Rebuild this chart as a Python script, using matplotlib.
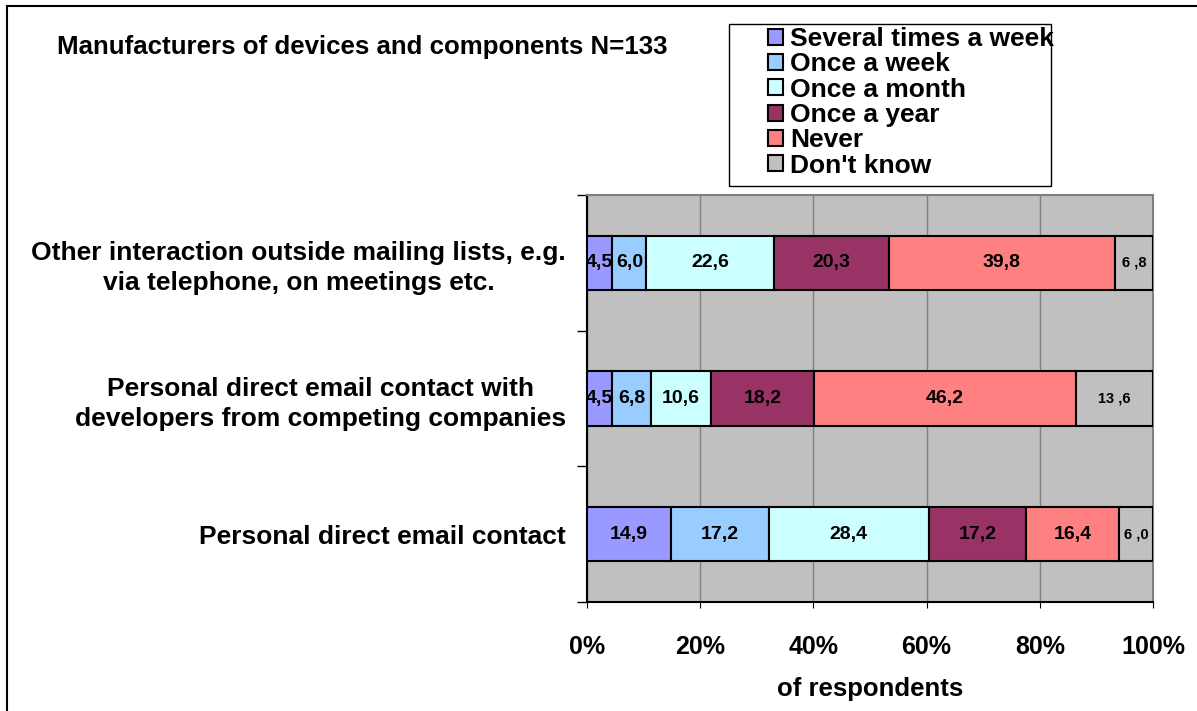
import numpy as np
import matplotlib
matplotlib.use("Agg")
import matplotlib.pyplot as plt
from matplotlib.patches import Rectangle

plt.rcParams['font.family'] = ['Liberation Sans', 'DejaVu Sans']
plt.rcParams['font.weight'] = 'bold'

# categories from bottom to top
categories = [
    "Personal direct email contact",
    "Personal direct email contact with\ndevelopers from competing companies",
    "Other interaction outside mailing lists, e.g.\nvia telephone, on meetings etc.",
]
series_names = ["Several times a week", "Once a week", "Once a month",
                "Once a year", "Never", "Don't know"]
several_week = [14.9, 4.5, 4.5]
once_week = [17.2, 6.8, 6.0]
once_month = [28.4, 10.6, 22.6]
once_year = [17.2, 18.2, 20.3]
never = [16.4, 46.2, 39.8]
dont_know = [6.0, 13.6, 6.8]
colors = ["#9999FF", "#99CCFF", "#CCFFFF", "#993366", "#FF8080", "#C0C0C0"]
x_ticks = [0, 20, 40, 60, 80, 100]

values = np.array([several_week, once_week, once_month, once_year, never, dont_know])
shares = values / values.sum(axis=0) * 100  # 100% stacked

W, H = 1197, 711
fig = plt.figure(figsize=(W / 100, H / 100), dpi=100)
fig.patches.append(Rectangle((7 / W, -0.1), 1.2, 1 - 6 / H + 0.1,
                             transform=fig.transFigure, fill=False,
                             edgecolor="black", linewidth=1.5))

ax = fig.add_axes([587 / W, 1 - 602 / H, (1153 - 587) / W, (602 - 195) / H])
ax.set_facecolor("#C0C0C0")
ax.set_xlim(0, 100)
ax.set_ylim(-0.5, 2.5)

ypos = np.arange(len(categories))
left = np.zeros(len(categories))
for i, name in enumerate(series_names):
    ax.barh(ypos, shares[i], left=left, height=0.4, color=colors[i],
            edgecolor="black", linewidth=1.5, label=name, zorder=3)
    for j in range(len(categories)):
        cx = left[j] + shares[i][j] / 2
        if i == len(series_names) - 1:
            txt = f"{values[i][j]:.1f}".replace(".", " ,")
            ax.text(cx, ypos[j], txt, ha="center", va="center", fontsize=10.5,
                    fontweight="bold", zorder=4)
        else:
            txt = f"{values[i][j]:.1f}".replace(".", ",")
            ax.text(cx, ypos[j], txt, ha="center", va="center", fontsize=14,
                    fontweight="bold", zorder=4)
    left += shares[i]

ax.xaxis.grid(True, color="#808080", linewidth=1, zorder=0)
ax.set_xticks(x_ticks)
ax.set_xticklabels([f"{t}%" for t in x_ticks], fontsize=18, fontweight="bold")
ax.tick_params(axis="x", length=4, pad=20)
ax.set_yticks(ypos)
ax.set_yticklabels(categories, fontsize=19, fontweight="bold",
                   multialignment="center", linespacing=1.3)
ax.tick_params(axis="y", length=0, pad=15)
ax.set_yticks([-0.5, 0.5, 1.5, 2.5], minor=True)
ax.tick_params(axis="y", which="minor", length=7, width=1)
ax.set_xlabel("of respondents", fontsize=18.5, fontweight="bold", labelpad=13)

for s in ["top", "right"]:
    ax.spines[s].set_color("#808080")
    ax.spines[s].set_linewidth(1.5)
for s in ["left", "bottom"]:
    ax.spines[s].set_color("black")
    ax.spines[s].set_linewidth(1.5)

fig.text(57 / W, 1 - 47 / H, "Manufacturers of devices and components N=133",
         fontsize=18.6, fontweight="bold", ha="left", va="center")

# legend frame drawn separately (text runs past it, as in the original)
fig.patches.append(Rectangle((729 / W, 1 - 186 / H), (1051 - 729) / W, (186 - 24) / H,
                             transform=fig.transFigure, fill=True, facecolor="white",
                             edgecolor="black", linewidth=1, zorder=1))
handles, labels = ax.get_legend_handles_labels()
leg = fig.legend(handles, labels, loc="upper left",
                 bbox_to_anchor=(768 / W, 1 - 27 / H),
                 prop={"size": 19, "weight": "bold"}, frameon=False,
                 handlelength=0.55, handleheight=0.55, handletextpad=0.3,
                 labelspacing=0.05, borderpad=0.0, borderaxespad=0)
leg.set_zorder(2)
for h in leg.legend_handles:
    h.set_linewidth(1.5)

fig.savefig("out.png", dpi=100)
